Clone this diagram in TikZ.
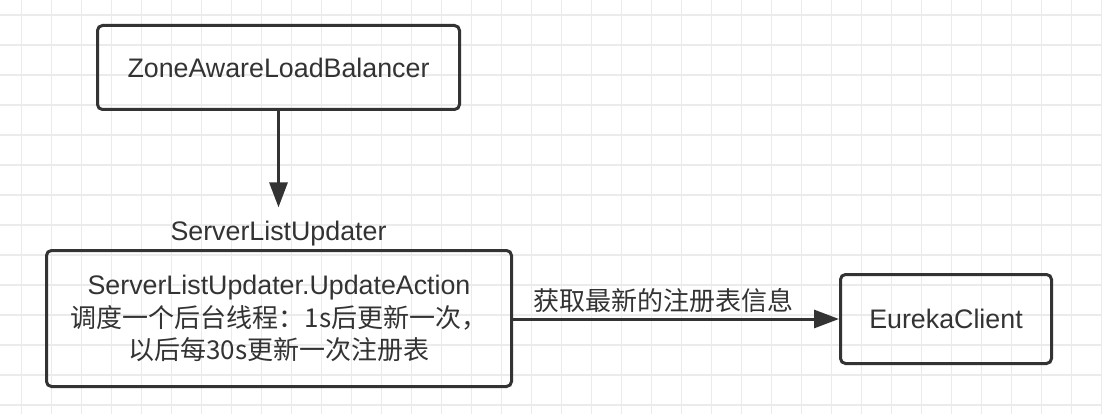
\documentclass[tikz,border=0pt]{standalone}
\usepackage{fontspec}
\setmainfont{Liberation Sans}
\newfontfamily\cjk{Noto Sans CJK SC}
\usetikzlibrary{arrows.meta}
\definecolor{ink}{HTML}{333333}
\definecolor{gridc}{HTML}{EBEBEB}
\tikzset{
  box/.style={draw=ink, line width=3pt, rounded corners=5pt, text=ink, inner sep=0pt,
    font=\fontsize{26.8}{32.5}\selectfont, align=center},
  conn/.style={draw=ink, line width=3pt, -{Triangle[length=25pt,width=18pt]}},
  lbl/.style={text=ink, inner sep=0pt, font=\fontsize{26.8}{32.5}\selectfont},
  gridline/.style={draw=gridc, line width=1.3pt}
}
\newcommand{\cjktext}[1]{{\cjk\fontsize{26}{32.5}\selectfont #1}}
\begin{document}
\begin{tikzpicture}[x=1pt,y=-1pt]
\useasboundingbox (0,0) rectangle (1102,414);
\fill[white] (0,0) rectangle (1102,414);
\foreach \i in {0,...,36} \draw[gridline] (21.5+30*\i,0) -- (21.5+30*\i,414);
\foreach \j in {0,...,13} \draw[gridline] (0,15+30*\j) -- (1102,15+30*\j);

\node[box, minimum width=362pt, minimum height=84pt] (zal) at (278.5,67.5) {ZoneAwareLoadBalancer};
\node[box, minimum width=465pt, minimum height=136pt] (sul) at (279,318.5)
  {ServerListUpdater.UpdateAction\\\cjktext{调度一个后台线程：1s后更新一次，}\\\cjktext{以后每30s更新一次注册表}};
\node[box, minimum width=211pt, minimum height=89pt] (eur) at (946,319) {EurekaClient};
\node[lbl, anchor=base] (slu) at (278.5,240) {ServerListUpdater};

\draw[conn, shorten >=13pt] (zal.south) -- (slu.north);
\draw[conn] (sul.east |- eur.west) -- node[lbl, pos=0, anchor=base west, xshift=19pt, yshift=9pt] (el) {\cjktext{获取最新的注册表信息}} (eur.west);
\end{tikzpicture}
\end{document}
